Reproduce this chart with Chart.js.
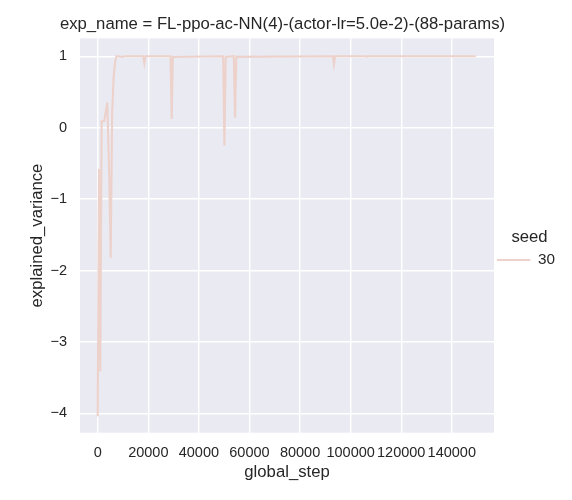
<!DOCTYPE html>
<html>
<head>
<meta charset="utf-8">
<title>explained_variance</title>
<script src="https://cdn.jsdelivr.net/npm/chart.js@4.4.1/dist/chart.umd.min.js"></script>
<style>
  html, body { margin: 0; padding: 0; background: #ffffff; }
  #grafico { display: block; }
</style>
</head>
<body>
<canvas id="grafico" width="572" height="500"></canvas>
<script>
// valores (global_step x explained_variance), seed 30
const passos = [0, 512, 1024, 1536, 2560, 3800, 4600, 5140, 5700, 6300, 6900, 7400,
  8000, 10000, 10500, 12000, 18000, 18430, 18900, 28800, 29250, 29700,
  49600, 50100, 50600, 53800, 54300, 54800, 93000, 93400, 93900,
  105800, 106300, 106800, 149500];
const variancia = [-4.04, -0.58, -3.41, 0.09, 0.09, 0.35, -0.75, -1.82, 0.2, 0.7, 0.93, 1.0,
  1.0, 0.99, 1.0, 1.0, 1.0, 0.90, 1.0, 1.0, 0.12, 0.99,
  1.0, -0.25, 0.99, 1.0, 0.14, 0.99, 1.0, 0.89, 1.0,
  1.0, 0.99, 1.0, 1.0];
const seeds = ["30"];
const xTicks = [0, 20000, 40000, 60000, 80000, 100000, 120000, 140000];
const yTicks = [-4, -3, -2, -1, 0, 1];

const corTexto = "#262626";
const corLinha = "#edd1cb";
const fonte = "'Liberation Sans', Arial, sans-serif";

Chart.defaults.font.family = fonte;
Chart.defaults.color = corTexto;

// fundo cinza da área do gráfico (estilo darkgrid)
const fundo = {
  id: "fundo",
  beforeDraw(chart) {
    const { ctx, chartArea: a } = chart;
    ctx.save();
    ctx.fillStyle = "#eaeaf2";
    ctx.fillRect(a.left, a.top, a.right - a.left, a.bottom - a.top);
    ctx.restore();
  }
};

function rotulo(v) {
  return v < 0 ? "\u2212" + Math.abs(v) : String(v);
}

const ctx = document.getElementById("grafico").getContext("2d");
new Chart(ctx, {
  type: "line",
  data: {
    datasets: [{
      label: seeds[0],
      data: passos.map((p, i) => ({ x: p, y: variancia[i] })),
      borderColor: corLinha,
      backgroundColor: corLinha,
      borderWidth: 2.1,
      pointRadius: 0,
      tension: 0,
      fill: false
    }]
  },
  options: {
    responsive: false,
    animation: false,
    devicePixelRatio: 1,
    events: [],
    layout: { padding: { right: 7 } },
    scales: {
      x: {
        type: "linear",
        min: -7000,
        max: 156700,
        afterBuildTicks: s => { s.ticks = xTicks.map(v => ({ value: v })); },
        ticks: { padding: 11.1, font: { size: 14.5 }, color: corTexto, callback: rotulo, maxRotation: 0, autoSkip: false },
        grid: { color: "#ffffff", lineWidth: 1.4, drawTicks: false },
        border: { display: false },
        title: { display: true, text: "global_step", font: { size: 16.7 }, color: corTexto, padding: { top: 0, bottom: 17.5 } },
        afterFit: s => { s.height = 67.3; }
      },
      y: {
        type: "linear",
        min: -4.27,
        max: 1.25,
        afterBuildTicks: s => { s.ticks = yTicks.map(v => ({ value: v })); },
        ticks: { padding: 13, font: { size: 14.5 }, color: corTexto, callback: rotulo },
        grid: { color: "#ffffff", lineWidth: 1.4, drawTicks: false },
        border: { display: false },
        title: { display: true, text: "explained_variance", font: { size: 16.7 }, color: corTexto, padding: { top: 27.5, bottom: 0 } },
        afterFit: s => { s.width = 80; }
      }
    },
    plugins: {
      title: {
        display: true,
        text: "exp_name = FL-ppo-ac-NN(4)-(actor-lr=5.0e-2)-(88-params)",
        font: { size: 16.7, weight: "normal" },
        color: corTexto,
        padding: { top: 14.5, bottom: 3.8 }
      },
      legend: {
        display: true,
        position: "right",
        align: "center",
        labels: {
          usePointStyle: true,
          pointStyle: "line",
          pointStyleWidth: 33.3,
          padding: 3,
          font: { size: 15.3 },
          color: corTexto
        },
        title: { display: true, text: "seed", font: { size: 16.7 }, color: corTexto, padding: 0 }
      },
      tooltip: { enabled: false }
    }
  },
  plugins: [fundo]
});
</script>
</body>
</html>
